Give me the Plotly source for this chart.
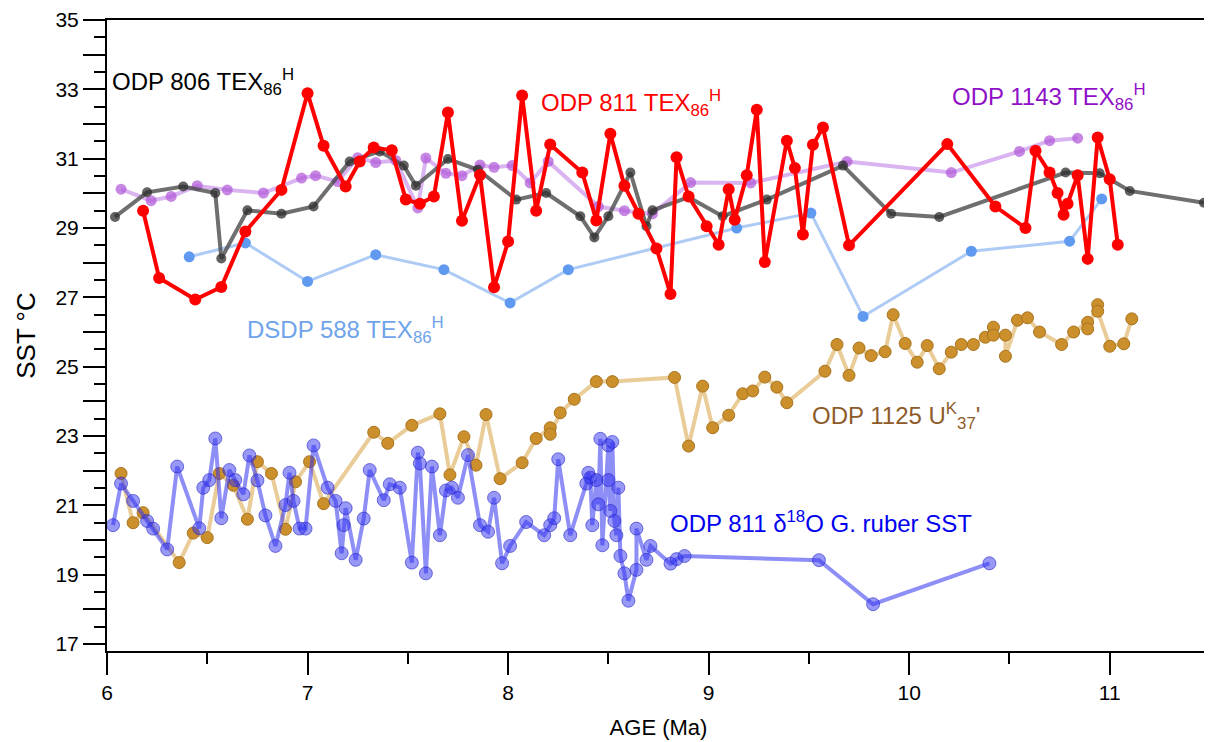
import plotly.graph_objects as go

# ---------------- data ----------------
odp811_tex_age = [6.18, 6.26, 6.44, 6.57, 6.69, 6.87, 7.00, 7.08, 7.19, 7.26, 7.33, 7.42, 7.49, 7.56,
                  7.63, 7.70, 7.77, 7.86, 7.93, 8.00, 8.07, 8.14, 8.21, 8.37, 8.44, 8.51, 8.58, 8.65,
                  8.74, 8.81, 8.84, 8.90, 8.99, 9.05, 9.10, 9.13, 9.19, 9.24, 9.28, 9.39, 9.43, 9.47,
                  9.52, 9.57, 9.70, 10.19, 10.43, 10.58, 10.63, 10.70, 10.74, 10.77, 10.79, 10.84,
                  10.89, 10.94, 11.00, 11.04]
odp811_tex_sst = [29.5, 27.56, 26.94, 27.3, 28.9, 30.1, 32.89, 31.37, 30.2, 30.92, 31.32, 31.24, 29.82, 29.7,
                  29.91, 32.33, 29.21, 30.53, 27.29, 28.61, 32.82, 29.5, 31.41, 30.6, 29.22, 31.72, 30.22, 29.41,
                  28.41, 27.1, 31.04, 29.91, 29.05, 28.52, 30.12, 29.24, 30.52, 32.41, 28.02, 31.52, 30.73, 28.81,
                  31.4, 31.9, 28.5, 31.42, 29.62, 29.0, 31.23, 30.6, 30.01, 29.38, 29.7, 30.52,
                  28.11, 31.61, 30.41, 28.52]

odp806_age = [6.04, 6.20, 6.38, 6.54, 6.57, 6.70, 6.87, 7.03, 7.21, 7.36, 7.48, 7.54, 7.70, 7.85, 8.04,
              8.19, 8.36, 8.43, 8.50, 8.61, 8.69, 8.72, 8.90, 9.07, 9.29, 9.67, 9.91, 10.15, 10.78,
              10.95, 11.10, 11.47]
odp806_sst = [29.32, 30.03, 30.2, 30.01, 28.12, 29.51, 29.41, 29.62, 30.92, 31.21, 30.8, 30.22, 30.99, 30.68, 29.82,
              30.01, 29.34, 28.73, 29.34, 30.6, 29.05, 29.51, 29.89, 29.34, 29.82, 30.8, 29.41, 29.32, 30.6,
              30.58, 30.07, 29.73]

odp1143_age = [6.07, 6.22, 6.32, 6.45, 6.60, 6.78, 6.97, 7.04, 7.15, 7.25, 7.34, 7.44, 7.55, 7.59, 7.69,
               7.77, 7.86, 7.93, 8.02, 8.11, 8.20, 8.45, 8.58, 8.72, 8.91, 9.21, 9.69, 10.21, 10.55,
               10.70, 10.84]
odp1143_sst = [30.12, 29.79, 29.91, 30.22, 30.1, 30.01, 30.44, 30.51, 30.34, 31.03, 30.89, 30.95, 29.58, 31.02, 30.58,
               30.51, 30.82, 30.75, 30.8, 30.3, 30.92, 29.62, 29.5, 29.41, 30.31, 30.3, 30.92, 30.6, 31.21,
               31.52, 31.59]

dsdp588_age = [6.41, 6.69, 7.00, 7.34, 7.68, 8.01, 8.30, 9.14, 9.51, 9.77, 10.31, 10.80, 10.96]
dsdp588_sst = [28.17, 28.57, 27.46, 28.23, 27.8, 26.84, 27.8, 29.0, 29.43, 26.45, 28.33, 28.62, 29.84]

odp1125_age = [6.07, 6.13, 6.18, 6.36, 6.43, 6.50, 6.56, 6.63, 6.70, 6.75, 6.82, 6.89, 6.94, 7.01, 7.08,
               7.33, 7.40, 7.52, 7.66, 7.71, 7.78, 7.84, 7.89, 7.96, 8.07, 8.14, 8.21, 8.21, 8.26, 8.33,
               8.44, 8.52, 8.83, 8.90, 8.97, 9.02, 9.10, 9.17, 9.22, 9.28, 9.34, 9.39, 9.58, 9.64, 9.70,
               9.75, 9.81, 9.88, 9.92, 9.98, 10.04, 10.09, 10.15, 10.21, 10.26, 10.32, 10.38, 10.42, 10.42,
               10.48, 10.48, 10.54, 10.59, 10.65, 10.76, 10.82, 10.89, 10.89, 10.94, 10.94, 11.00, 11.07, 11.11]
odp1125_sst = [21.92, 20.5, 20.79, 19.35, 20.2, 20.07, 21.92, 21.58, 20.6, 22.26, 21.92, 20.31, 21.68, 22.26, 21.05,
               23.11, 22.79, 23.31, 23.64, 21.88, 22.98, 22.16, 23.62, 21.77, 22.23, 22.93, 23.24, 23.05, 23.67, 24.06,
               24.57, 24.57, 24.69, 22.71, 24.44, 23.24, 23.6, 24.22, 24.3, 24.7, 24.41, 23.96, 24.87, 25.64, 24.75,
               25.54, 25.32, 25.43, 26.5, 25.67, 25.13, 25.61, 24.94, 25.42, 25.64, 25.64, 25.85, 26.14, 25.91,
               25.91, 25.3, 26.34, 26.41, 26.0, 25.64, 26.0, 26.28, 26.09, 26.79, 26.6, 25.59, 25.66, 26.38]

odp811_d18o_age = [6.03, 6.07, 6.13, 6.20, 6.23, 6.30, 6.35, 6.46, 6.48, 6.51, 6.54, 6.57, 6.61, 6.64, 6.68,
                   6.71, 6.75, 6.79, 6.84, 6.89, 6.91, 6.93, 6.96, 6.99, 7.03, 7.10, 7.14, 7.17, 7.18, 7.19,
                   7.24, 7.28, 7.31, 7.38, 7.41, 7.46, 7.52, 7.55, 7.56, 7.59, 7.62, 7.66, 7.69, 7.72, 7.75,
                   7.80, 7.86, 7.90, 7.93, 7.97, 8.01, 8.09, 8.18, 8.21, 8.23, 8.25, 8.31, 8.39, 8.40, 8.41,
                   8.42, 8.44, 8.45, 8.46, 8.47, 8.50, 8.50, 8.51, 8.52, 8.53, 8.54, 8.55, 8.56, 8.58, 8.60,
                   8.64, 8.64, 8.69, 8.71, 8.81, 8.84, 8.88, 9.55, 9.82, 10.40]
odp811_d18o_sst = [20.43, 21.63, 21.13, 20.55, 20.33, 19.73, 22.12, 20.34, 21.51, 21.73, 22.93, 20.63, 22.02, 21.73, 21.32,
                   22.44, 21.72, 20.71, 19.83, 21.01, 21.94, 21.13, 20.33, 20.33, 22.73, 21.51, 21.13, 19.62, 20.43, 20.92,
                   19.43, 20.62, 22.02, 21.15, 21.61, 21.51, 19.35, 22.52, 22.21, 19.04, 22.12, 20.14, 21.43, 21.51, 21.22,
                   22.45, 20.43, 20.24, 21.22, 19.33, 19.83, 20.52, 20.14, 20.43, 20.63, 22.33, 20.14, 21.63, 21.94, 21.8,
                   20.43, 21.73, 21.03, 22.92, 19.85, 22.73, 21.73, 20.84, 22.83, 20.55, 20.14, 21.51, 19.54, 19.04, 18.25,
                   19.14, 20.33, 19.43, 19.83, 19.32, 19.45, 19.54, 19.42, 18.15, 19.33]

x_tickvals = [6, 7, 8, 9, 10, 11]
x_ticktext = ["6", "7", "8", "9", "10", "11"]
y_tickvals = list(range(17, 36))
y_ticktext = [str(v) if v % 2 == 1 else "" for v in y_tickvals]

FONT = "Liberation Sans, Arial, sans-serif"

fig = go.Figure()


def add_series(x, y, line_color, line_width, marker_color, marker_size, outline=None):
    fig.add_trace(go.Scatter(
        x=x, y=y, mode="lines+markers",
        line=dict(color=line_color, width=line_width),
        marker=dict(color=marker_color, size=marker_size,
                    line=dict(color=outline or "rgba(0,0,0,0)", width=1 if outline else 0)),
        showlegend=False, hoverinfo="x+y"))


add_series(dsdp588_age, dsdp588_sst, "#AECBF5", 3, "#5F99F0", 11)
add_series(odp1143_age, odp1143_sst, "rgba(205,155,235,0.75)", 4, "rgba(175,85,215,0.7)", 11)
add_series(odp806_age, odp806_sst, "rgba(75,75,75,0.8)", 4, "rgba(45,45,45,0.75)", 10)
add_series(odp1125_age, odp1125_sst, "#E9CC97", 4, "#CB8F2C", 12, outline="#A8741E")
add_series(odp811_d18o_age, odp811_d18o_sst, "rgba(50,50,240,0.55)", 4, "rgba(50,50,240,0.5)", 13,
           outline="rgba(40,40,200,0.6)")
add_series(odp811_tex_age, odp811_tex_sst, "#FF0000", 4, "#FF0000", 12)

labels = [
    (6.015, 33.2, "ODP 806 TEX<sub>86</sub><sup>H</sup>", "#000000"),
    (8.152, 32.6, "ODP 811 TEX<sub>86</sub><sup>H</sup>", "#FF0000"),
    (10.205, 32.78, "ODP 1143 TEX<sub>86</sub><sup>H</sup>", "#9010C8"),
    (6.686, 26.07, "DSDP 588 TEX<sub>86</sub><sup>H</sup>", "#6FA3EA"),
    (9.504, 23.59, "ODP 1125 U<sup>K</sup><sub>37</sub>'", "#8E5C2A"),
    (8.798, 20.51, "ODP 811 δ<sup>18</sup>O G. ruber SST", "#0000EE"),
]
for x, y, t, c in labels:
    fig.add_annotation(x=x, y=y, xref="x", yref="y", text=t, showarrow=False,
                       xanchor="left", yanchor="middle",
                       font=dict(family=FONT, size=24, color=c))

# the page adds an 8 px body margin, so the figure is sized to fit inside it
fig.update_layout(
    width=1204, height=734,
    margin=dict(l=99, r=2, t=12, b=91),
    paper_bgcolor="white", plot_bgcolor="white",
    font=dict(family=FONT, color="#000000"),
)
fig.update_xaxes(
    range=[6, 11.5], showgrid=False, zeroline=False, automargin=False,
    showline=True, linecolor="black", linewidth=2, mirror=True,
    ticks="outside", ticklen=22, tickwidth=1.5, tickcolor="black",
    tickmode="array", tickvals=x_tickvals, ticktext=x_ticktext,
    tickfont=dict(family=FONT, size=21),
    minor=dict(ticks="outside", ticklen=11, tickwidth=1.5, tickcolor="black",
               tickmode="linear", tick0=6.5, dtick=1),
    title=dict(text="AGE (Ma)", font=dict(family=FONT, size=22), standoff=16),
)
fig.update_yaxes(
    range=[16.8, 35], showgrid=False, zeroline=False, automargin=False,
    showline=True, linecolor="black", linewidth=2, mirror=True,
    ticks="outside", ticklen=22, tickwidth=1.5, tickcolor="black",
    tickmode="array", tickvals=y_tickvals, ticktext=y_ticktext,
    tickfont=dict(family=FONT, size=21),
    minor=dict(ticks="outside", ticklen=11, tickwidth=1.5, tickcolor="black",
               tickmode="linear", tick0=17.5, dtick=1),
    title=dict(text="SST °C", font=dict(family=FONT, size=26), standoff=12),
)

fig.write_html("out.html")
